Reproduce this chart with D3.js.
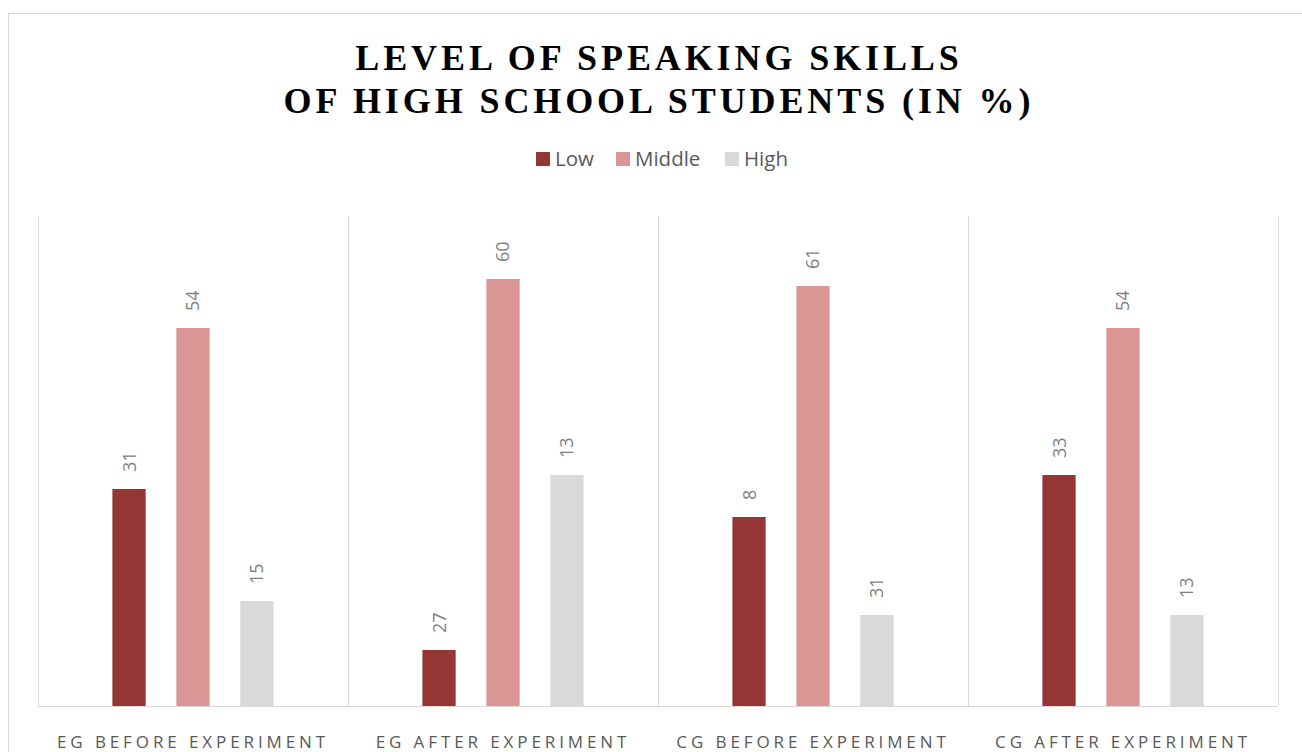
<!DOCTYPE html>
<html>
<head>
<meta charset="utf-8">
<script src="https://cdn.jsdelivr.net/npm/d3@7"></script>
<style>
  body { margin: 0; background: #fff; }
  svg { display: block; }
</style>
</head>
<body>
<svg id="chart"></svg>
<script>
// categories and series
var categories = ['EG BEFORE EXPERIMENT', 'EG AFTER EXPERIMENT', 'CG BEFORE EXPERIMENT', 'CG AFTER EXPERIMENT'];
var seriesNames = ['Low', 'Middle', 'High'];
var seriesColors = ['#963634', '#da9694', '#d9d9d9'];

// bar heights as drawn
var lowValues = [31, 8, 27, 33];
var middleValues = [54, 61, 60, 54];
var highValues = [15, 33, 13, 13];

// data labels as printed on the bars
var lowLabels = [31, 27, 8, 33];
var middleLabels = [54, 60, 61, 54];
var highLabels = [15, 13, 31, 13];

var Config = {
    width: 1302,
    height: 752,
    margin: { top: 216, right: 24, bottom: 46, left: 38 }
};

const sans = '"Open Sans", "Noto Sans", sans-serif';

class BarChart {
    constructor(config) {
        this.config = config;
        this.init();
    }

    init() {
        let self = this;
        let c = self.config;
        self.svg = d3.select('#chart')
            .attr('width', c.width)
            .attr('height', c.height);

        // outer chart border
        self.svg.append('rect')
            .attr('x', 8.5).attr('y', 13.5)
            .attr('width', c.width + 20).attr('height', c.height + 20)
            .attr('fill', 'none')
            .attr('stroke', '#d9d9d9');

        self.innerW = 1278 - c.margin.left;
        self.innerH = 706 - c.margin.top;

        self.chart = self.svg.append('g')
            .attr('transform', `translate(${c.margin.left}, ${c.margin.top})`);

        self.x0 = d3.scaleBand().domain(categories).range([0, self.innerW]);
        self.x1 = d3.scaleBand().domain(seriesNames)
            .range([self.x0.bandwidth() * 0.24, self.x0.bandwidth() * 0.76])
            .paddingInner(0.48).paddingOuter(0);
        self.y = d3.scaleLinear().domain([0, 70]).range([self.innerH, 0]);
        self.color = d3.scaleOrdinal().domain(seriesNames).range(seriesColors);
    }

    update() {
        let self = this;
        let values = [lowValues, middleValues, highValues];
        let labels = [lowLabels, middleLabels, highLabels];
        let rows = [];
        categories.forEach((cat, i) => {
            seriesNames.forEach((s, j) => {
                rows.push({ cat: cat, series: s, value: values[j][i], label: labels[j][i] });
            });
        });

        // title
        let title = self.svg.append('text')
            .attr('text-anchor', 'middle')
            .attr('font-family', '"Liberation Serif", "Times New Roman", serif')
            .attr('font-weight', 'bold')
            .attr('font-size', 36)
            .attr('letter-spacing', 3.9)
            .attr('fill', '#000');
        title.append('tspan').attr('x', 659).attr('y', 70).text('LEVEL OF SPEAKING SKILLS');
        title.append('tspan').attr('x', 659).attr('y', 113).text('OF HIGH SCHOOL STUDENTS (IN %)');

        // legend
        let legendX = [536, 616, 725];
        let legend = self.svg.append('g').selectAll('g')
            .data(seriesNames)
            .join('g')
            .attr('transform', (d, i) => `translate(${legendX[i]}, 152)`);
        legend.append('rect')
            .attr('width', 14).attr('height', 14)
            .attr('fill', d => self.color(d));
        legend.append('text')
            .attr('x', 19).attr('y', 14)
            .attr('font-family', sans)
            .attr('font-size', 20.5)
            .attr('fill', '#595959')
            .text(d => d);

        // separators between categories
        let edges = categories.map(d => self.x0(d)).concat([self.innerW]);
        self.chart.selectAll('line.sep')
            .data(edges)
            .join('line')
            .attr('class', 'sep')
            .attr('x1', d => d + 0.5).attr('x2', d => d + 0.5)
            .attr('y1', 0).attr('y2', self.innerH)
            .attr('stroke', '#d9d9d9');

        // baseline
        self.chart.append('line')
            .attr('x1', 0).attr('x2', self.innerW)
            .attr('y1', self.innerH + 0.5).attr('y2', self.innerH + 0.5)
            .attr('stroke', '#d9d9d9');

        // bars
        self.chart.selectAll('rect.bar')
            .data(rows)
            .join('rect')
            .attr('class', 'bar')
            .attr('x', d => self.x0(d.cat) + self.x1(d.series))
            .attr('y', d => self.y(d.value))
            .attr('width', self.x1.bandwidth())
            .attr('height', d => self.innerH - self.y(d.value))
            .attr('fill', d => self.color(d.series));

        // data labels (rotated)
        self.chart.selectAll('text.lbl')
            .data(rows)
            .join('text')
            .attr('class', 'lbl')
            .attr('transform', d => {
                let cx = self.x0(d.cat) + self.x1(d.series) + self.x1.bandwidth() / 2;
                let cy = self.y(d.value) - 17;
                return `translate(${cx}, ${cy}) rotate(-90)`;
            })
            .attr('dy', '0.36em')
            .attr('text-anchor', 'start')
            .attr('font-family', sans)
            .attr('font-size', 18)
            .attr('fill', '#7f7f7f')
            .text(d => d.label);

        // category labels
        self.chart.selectAll('text.cat')
            .data(categories)
            .join('text')
            .attr('class', 'cat')
            .attr('x', d => self.x0(d) + self.x0.bandwidth() / 2)
            .attr('y', self.innerH + 42)
            .attr('text-anchor', 'middle')
            .attr('font-family', sans)
            .attr('font-size', 17)
            .attr('letter-spacing', 3.9)
            .attr('fill', '#595959')
            .text(d => d);
    }
}

const bar_chart = new BarChart(Config);
bar_chart.update();
</script>
</body>
</html>
